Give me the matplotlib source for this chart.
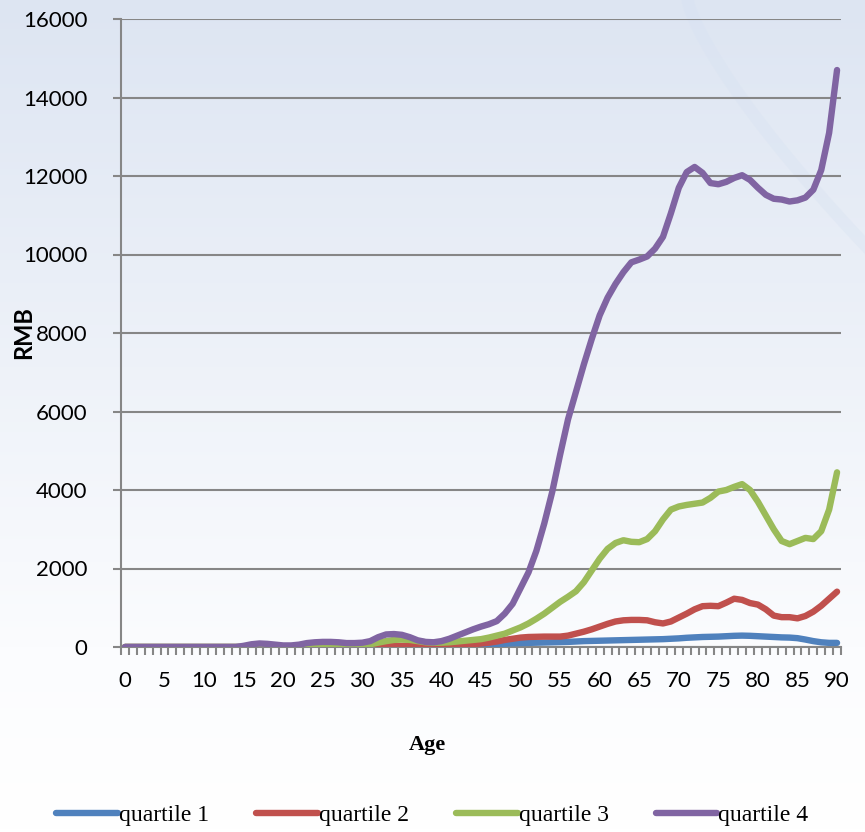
import numpy as np
import matplotlib.pyplot as plt
from matplotlib.colors import LinearSegmentedColormap

ages = list(range(0, 91))

quartile_1 = [0] * 41 + [
    10, 15, 20, 30, 45, 60, 75, 85, 95, 100,
    105, 110, 115, 120, 125, 130, 140, 150, 155, 160,
    165, 170, 175, 180, 185, 190, 195, 200, 210, 220,
    235, 245, 255, 260, 265, 275, 285, 290, 285, 275,
    265, 255, 245, 240, 225, 190, 150, 120, 105, 105]

quartile_2 = [0] * 31 + [
    10, 15, 20, 25, 30, 35, 45, 50, 45, 35,
    30, 40, 50, 70, 90, 110, 140, 180, 210, 240,
    255, 260, 265, 265, 265, 290, 340, 390, 450, 520,
    590, 650, 680, 690, 690, 680, 630, 600, 650, 750,
    850, 960, 1040, 1050, 1040, 1130, 1230, 1200, 1120, 1080,
    960, 800, 760, 760, 730, 790, 900, 1050, 1230, 1410]

quartile_3 = [0] * 16 + [
    10, 10, 10, 10, 10, 10, 10, 20, 40, 50,
    50, 40, 30, 30, 40, 70, 110, 150, 180, 190,
    180, 150, 120, 110, 110, 120, 140, 160, 180, 200,
    240, 290, 340, 420, 500, 600, 720, 850, 1000, 1150,
    1280, 1420, 1650, 1950, 2250, 2500, 2650, 2720, 2680, 2670,
    2750, 2950, 3250, 3500, 3580, 3620, 3650, 3680, 3800, 3960,
    4000, 4080, 4150, 4000, 3700, 3350, 3000, 2700, 2620, 2700,
    2780, 2750, 2950, 3500, 4450]

quartile_4 = [0] * 15 + [
    30, 70, 90, 80, 60, 40, 40, 60, 100, 120,
    130, 130, 120, 100, 100, 110, 150, 250, 320, 330,
    310, 250, 170, 130, 120, 150, 210, 290, 370, 450,
    520, 580, 660, 850, 1100, 1500, 1900, 2450, 3150, 3950,
    4900, 5800, 6500, 7200, 7850, 8450, 8900, 9250, 9550, 9800,
    9870, 9950, 10150, 10450, 11050, 11700, 12100, 12230, 12080, 11820,
    11790, 11850, 11950, 12020, 11900, 11700, 11520, 11420, 11400, 11350,
    11380, 11450, 11650, 12150, 13100, 14700]

labels = ["quartile 1", "quartile 2", "quartile 3", "quartile 4"]
colors = ["#4F81BD", "#C0504D", "#9BBB59", "#8064A2"]
series = [quartile_1, quartile_2, quartile_3, quartile_4]

fig = plt.figure(figsize=(8.65, 8.32), dpi=100)

# background gradient + faint swoosh top right
bg = fig.add_axes([0, 0, 1, 1], zorder=-5)
grad = np.linspace(0, 1, 256).reshape(-1, 1)
cmap = LinearSegmentedColormap.from_list("bg", [(0, "#dde5f2"), (0.78, "#fbfcfe"), (1, "#ffffff")])
bg.imshow(grad, aspect="auto", cmap=cmap, extent=[0, 1, 0, 1], origin="upper")
t = np.linspace(0, 1, 100)
bg.plot(0.795 + 0.21 * t ** 1.3, 1 - 0.30 * t, color="#d7e2f2", lw=9, alpha=0.35)
bg.set_xlim(0, 1)
bg.set_ylim(0, 1)
bg.axis("off")

ax = fig.add_axes([121 / 865, 1 - 647 / 832, 720 / 865, 628 / 832])
ax.set_facecolor("none")

for s, c, l in zip(series, colors, labels):
    ax.plot(ages, s, color=c, lw=4.6, label=l, solid_capstyle="round", zorder=3)

ax.set_xlim(-0.5, 90.5)
ax.set_ylim(0, 16000)
ax.set_yticks(range(0, 16001, 2000))
ax.set_xticks(range(0, 91, 5))
ax.set_xticks(np.arange(-0.5, 91, 1), minor=True)
ax.grid(axis="y", color="#868686", lw=1.5)
ax.set_axisbelow(True)

for sp in ["top", "right"]:
    ax.spines[sp].set_visible(False)
for sp in ["left", "bottom"]:
    ax.spines[sp].set_color("#868686")
    ax.spines[sp].set_linewidth(1.5)

ax.tick_params(axis="y", length=6, width=1.5, color="#868686", pad=18,
               labelsize=16, labelfontfamily="Lato")
ax.tick_params(axis="x", which="major", length=0, pad=17,
               labelsize=16, labelfontfamily="Lato")
ax.tick_params(axis="x", which="minor", length=6, width=1.5, color="#868686")

ax.set_xlabel("Age", fontsize=16, fontweight="bold", family="Liberation Serif")
ax.xaxis.set_label_coords(0.425, -0.14)
ax.set_ylabel("RMB", fontsize=17, fontweight="bold", family="Lato")
ax.yaxis.set_label_coords(-0.119, 0.5)

fig.legend(loc="center", bbox_to_anchor=(0.5, 1 - 815 / 832), ncol=4, frameon=False,
           prop={"family": "Liberation Serif", "size": 17}, handlelength=2.6,
           handletextpad=0.05, columnspacing=2.0)

fig.savefig("out.png", dpi=100)
